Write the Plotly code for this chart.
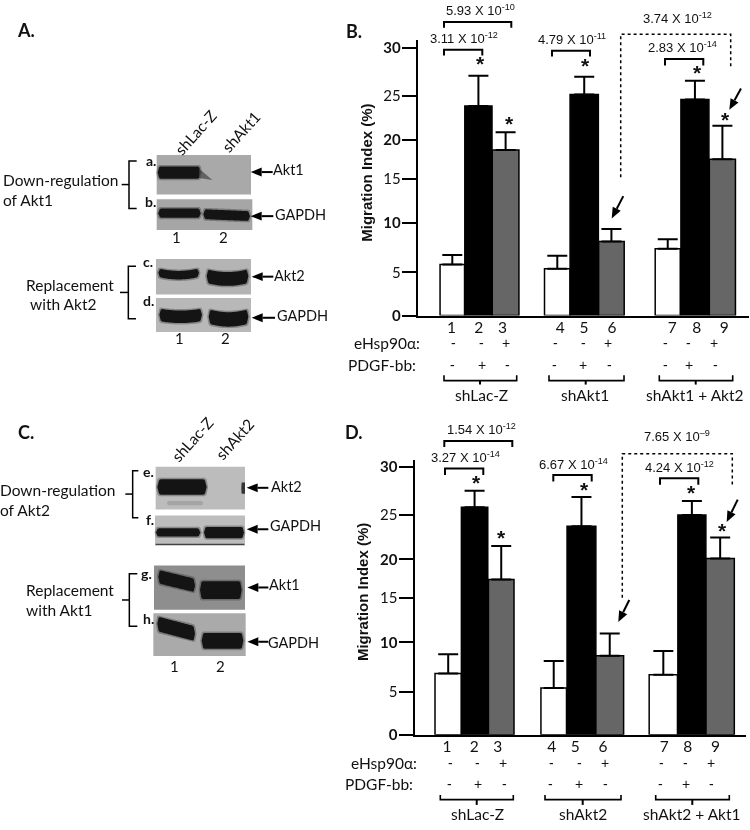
import math
import plotly.graph_objects as go

# ---- chart data -------------------------------------------------------
lane_numbers = ["1", "2", "3", "4", "5", "6", "7", "8", "9"]
bar_colors = ["white", "black", "#666666"] * 3

values_b = [5.71, 23.46, 18.53, 5.23, 24.75, 8.29, 7.48, 24.2, 17.5]
errors_b = [1.07, 3.39, 1.99, 1.47, 1.99, 1.4, 1.07, 2.1, 3.75]
values_d = [6.88, 25.5, 17.4, 5.26, 23.37, 8.87, 6.74, 24.62, 19.76]
errors_d = [2.14, 1.85, 3.76, 3.02, 3.28, 2.47, 2.65, 1.58, 2.34]

y_tick_labels = ["<b>0</b>", "5", "<b>10</b>", "15", "<b>20</b>", "25", "<b>30</b>"]
y_tick_values = [0, 4.83, 10.35, 15.33, 19.65, 24.6, 30]

hsp_signs = ["-", "-", "+"] * 3
pdgf_signs = ["-", "+", "-"] * 3

pvals_b = ["5.93 X 10<sup>-10</sup>", "3.11 X 10<sup>-12</sup>", "4.79 X 10<sup>-11</sup>",
           "3.74 X 10<sup>-12</sup>", "2.83 X 10<sup>-14</sup>"]
pvals_d = ["1.54 X 10<sup>-12</sup>", "3.27 X 10<sup>-14</sup>", "6.67 X 10<sup>-14</sup>",
           "7.65 X 10<sup>–9</sup>", "4.24 X 10<sup>-12</sup>"]

# ---- layout constants ---------------------------------------------------
lanes_b = [1, 1.96, 2.96, 4.86, 5.85, 6.85, 8.92, 9.92, 10.93]
widths_b = [0.9, 1.0, 0.98, 0.94, 1.04, 0.94, 0.92, 1.03, 0.96]
lanes_d = [1, 1.97, 2.95, 4.88, 5.9, 6.94, 8.91, 9.96, 11.0]
widths_d = [0.97, 0.97, 0.94, 0.94, 1.06, 1.02, 1.04, 1.03, 1.04]
num_lanes_b = [0.97, 1.97, 2.85, 4.97, 5.84, 6.87, 9.09, 9.99, 11.0]
num_lanes_d = [0.96, 1.96, 2.82, 4.81, 5.67, 6.69, 8.94, 9.81, 10.83]
W, H = 750, 830
SANS = "Lato"
ARIAL = "Liberation Sans"
BODY = 15.5


def X(p):
    return p / W


def Y(p):
    return 1 - p / H


shapes, annos = [], []


def text(x, y, s, size=BODY, anchor="center", font=SANS, angle=0):
    annos.append(dict(x=X(x), y=Y(y), xref="paper", yref="paper", text=s, showarrow=False,
                      xanchor=anchor, yanchor="middle", textangle=angle, borderpad=0, borderwidth=0,
                      font=dict(family=font, size=size, color="#111111")))


def poly(points, width=2, dash=None, close=False, fill=None, color="black", opacity=1):
    d = "M " + " L ".join(f"{X(a):.5f} {Y(b):.5f}" for a, b in points)
    if close:
        d += " Z"
    line = dict(color=color, width=width)
    if dash:
        line["dash"] = dash
    s = dict(type="path", xref="paper", yref="paper", path=d, line=line, opacity=opacity)
    if fill:
        s["fillcolor"] = fill
    shapes.append(s)


def arrow(x0, y0, x1, y1, width=2, head=11.0, half=4.5):
    L = math.hypot(x1 - x0, y1 - y0)
    ux, uy = (x1 - x0) / L, (y1 - y0) / L
    bx, by = x1 - ux * head, y1 - uy * head
    poly([(x0, y0), (bx, by)], width=width)
    poly([(x1, y1), (bx - uy * half, by + ux * half), (bx + uy * half, by - ux * half)],
         width=0, close=True, fill="black")


def rect(x0, y0, x1, y1, color):
    shapes.append(dict(type="rect", xref="paper", yref="paper", x0=X(x0), x1=X(x1), y0=Y(y0),
                       y1=Y(y1), fillcolor=color, line=dict(width=0)))


def curve(x0, y0, x1, y1, sag=0.0, tilt=0.0, color="#141414", opacity=1.0):
    """A blot band: rounded blob between two corners, smile-shaped by sag, slanted by tilt."""
    n = 30
    r = 0.07
    top, bot = [], []
    for i in range(n + 1):
        t = i / n
        u = min(1.0, min(t, 1 - t) / r)
        end = math.sqrt(max(0.0, 1 - (1 - u) ** 2))
        mid = (y0 + y1) / 2 + tilt * (t - 0.5)
        half = (y1 - y0) / 2 * end
        x = x0 + (x1 - x0) * t
        off = sag * (4 * (t - 0.5) ** 2 - 1 / 3)
        top.append((x, mid - half - off))
        bot.append((x, mid + half - off))
    poly(top + bot[::-1], width=0, close=True, fill=color, color=color, opacity=opacity)


def blur_band(x0, y0, x1, y1, sag=0.0, tilt=0.0):
    curve(x0 - 1.5, y0 - 1.5, x1 + 1.5, y1 + 1.5, sag, tilt, "#2a2a2a", 0.35)
    curve(x0, y0, x1, y1, sag, tilt)


def bracket(x0, x1, y0, y1, width=2):
    poly([(x0, y1), (x0, y0), (x1, y0), (x1, y1)], width=width)


def under_bracket(x0, x1, xc, y0, y1, y2):
    poly([(x0, y0), (x0, y1), (x1, y1), (x1, y0)], width=1.6)
    poly([(xc, y1), (xc, y2)], width=2)


def star(x, y):
    text(x, y + 1, "<b>*</b>", size=21, font=ARIAL)


def sign(x, y, s):
    text(x, y, s, size=14, font=ARIAL)


def curly(x_spine, y0, y1, x_end, y_tick, x_tick):
    poly([(x_end, y0), (x_spine, y0), (x_spine, y1), (x_end, y1)], width=1.5)
    poly([(x_tick, y_tick), (x_spine, y_tick)], width=1.5)


def z(v, off=0.0):
    return v / 3 + off


# ---- panel letters ------------------------------------------------------
text(25.5, 27, "<b>A.</b>", size=18)
text(25.5, 435, "<b>C.</b>", size=18)
text(353.5, 28, "<b>B.</b>", size=18)
text(354, 435, "<b>D.</b>", size=18)

# ---- panel A (zoom coordinates / 3) -------------------------------------
rect(z(470), z(462), z(753), z(582), "#a9a9a9")
rect(z(470), z(597), z(757), z(690), "#a6a6a6")
rect(z(468), z(778), z(753), z(886), "#b4b4b4")
rect(z(468), z(897), z(753), z(1000), "#b8b8b8")
blur_band(z(473), z(497), z(602), z(534))
poly([(z(597), z(503)), (z(637), z(538)), (z(597), z(532))], width=0, close=True, fill="#444444", color="#444444", opacity=0.7)
blur_band(z(475), z(625), z(602), z(653))
blur_band(z(610), z(630), z(750), z(660), tilt=2)
blur_band(z(475), z(812), z(597), z(838), sag=2.5)
blur_band(z(620), z(815), z(745), z(857), sag=3)
blur_band(z(478), z(933), z(606), z(971), sag=2)
blur_band(z(626), z(937), z(745), z(981), sag=3)

for s, x, y in [("a.", 452, 478), ("b.", 450, 605), ("c.", 444, 787), ("d.", 445, 903)]:
    text(z(x), z(y), f"<b>{s}</b>", size=14)
for s, x, y in [("1", 530, 710), ("2", 670, 710), ("1", 538, 1020), ("2", 677, 1020)]:
    text(z(x), z(y), s, size=15)
text(z(588), z(393), "shLac-Z", size=15.5, angle=-48)
text(z(722), z(392), "shAkt1", size=15.5, angle=-48)
text(z(10), z(538), "Down-regulation", size=15.5, anchor="left")
text(z(10), z(598), "of Akt1", size=15.5, anchor="left")
text(z(78), z(857), "Replacement", size=15.5, anchor="left")
text(z(90), z(915), "with Akt2", size=15.5, anchor="left")
curly(z(387), z(480), z(625), z(410), z(552), z(365))
curly(z(385), z(800), z(960), z(408), z(880), z(360))
for xt, xh, y, lab, lx, ly in [(818, 752, 514, "Akt1", 820, 507), (820, 752, 648, "GAPDH", 825, 643),
                               (820, 755, 832, "Akt2", 822, 828), (825, 755, 957, "GAPDH", 830, 950)]:
    arrow(z(xt), z(y), z(xh), z(y))
    text(z(lx), z(ly), lab, size=14.5, anchor="left")

# ---- panel C ------------------------------------------------------------
OC = 410
rect(z(467), z(180, OC), z(735), z(310, OC), "#bcbcbc")
rect(z(465), z(328, OC), z(735), z(420, OC), "#bdbdbd")
rect(z(462), z(480, OC), z(735), z(615, OC), "#8e8e8e")
rect(z(460), z(625, OC), z(737), z(755, OC), "#aaaaaa")
blur_band(z(472), z(218, OC), z(620), z(265, OC))
curve(z(500), z(284, OC), z(610), z(297, OC), color="#a4a4a4")
curve(z(724), z(228, OC), z(746), z(262, OC), color="#333333")
rect(z(735), z(220, OC), z(750), z(270, OC), "white")
blur_band(z(468), z(367, OC), z(601), z(392, OC))
blur_band(z(612), z(363, OC), z(732), z(397, OC))
rect(z(467), z(414, OC), z(733), z(418, OC), "#444444")
blur_band(z(475), z(507, OC), z(585), z(548, OC), tilt=9)
blur_band(z(600), z(528, OC), z(725), z(582, OC))
blur_band(z(472), z(650, OC), z(585), z(695, OC), tilt=10)
blur_band(z(605), z(685, OC), z(730), z(733, OC))
for s, x, y in [("e.", 446, 193), ("f.", 449, 340), ("g.", 440, 503), ("h.", 444, 640)]:
    text(z(x), z(y, OC), f"<b>{s}</b>", size=14)
text(z(522), z(785, OC), "1", size=15)
text(z(660), z(785, OC), "2", size=15)
text(z(578), z(97, OC), "shLac-Z", size=15.5, angle=-48)
text(z(705), z(97, OC), "shAkt2", size=15.5, angle=-48)
text(z(0), z(250, OC), "Down-regulation", size=15.5, anchor="left")
text(z(0), z(310, OC), "of Akt2", size=15.5, anchor="left")
text(z(78), z(555, OC), "Replacement", size=15.5, anchor="left")
text(z(78), z(615, OC), "with Akt1", size=15.5, anchor="left")
curly(z(398), z(192, OC), z(335, OC), z(415), z(263, OC), z(376))
curly(z(388), z(505, OC), z(665, OC), z(412), z(585, OC), z(366))
for xh, y, lab, lx, ly in [(740, 244, "Akt2", 812, 240), (740, 370, "GAPDH", 810, 360),
                           (742, 547, "Akt1", 807, 538), (742, 712, "GAPDH", 805, 715)]:
    arrow(z(805), z(y, OC), z(xh), z(y, OC))
    text(z(lx), z(ly, OC), lab, size=14.5, anchor="left")

# ---- panel B annotations ------------------------------------------------
for s, x, y in zip(pvals_b, [480.3, 464.3, 571.7, 677.3, 682.3], [6.7, 35, 36.7, 15.7, 45]):
    text(x, y, s, size=13, font=ARIAL)
bracket(444, 511.3, 19.3, 25)
bracket(444, 482.3, 47.3, 53.3)
bracket(552, 590, 48.3, 54.3)
bracket(665, 703.3, 56.7, 63.3)
poly([(620.7, 176.7), (620.7, 31.7), (730.7, 31.7), (730.7, 65.7)], width=1.5, dash="dot")
for x, y in [(480.3, 60.7), (509, 120.7), (585, 62.7), (697.3, 69.3), (725, 116.7)]:
    star(x, y)
arrow(623.3, 195.7, 611.7, 218.3)
arrow(741, 86.7, 729.3, 108.3)
text(420, 345, "eHsp90α:", anchor="right")
text(416, 366.7, "PDGF-bb:", anchor="right")
for zx, s in zip([340, 425, 497, 645, 730, 805, 975, 1045, 1122], hsp_signs):
    sign(z(zx, 340), 345, s)
for zx, s in zip([338, 425, 503, 643, 730, 808, 975, 1047, 1125], pdgf_signs):
    sign(z(zx, 340), 366.7, s)
under_bracket(444, 516.7, 480, 377.3, 382.7, 386.7)
under_bracket(549, 624, 585.7, 377.3, 382.7, 386.7)
under_bracket(659.3, 732.7, 695.7, 377.3, 382.7, 386.7)
text(481, 397, "shLac-Z")
text(585, 397, "shAkt1")
text(695, 397, "shAkt1 + Akt2")

# ---- panel D annotations ------------------------------------------------
for s, x, y in zip(pvals_d, [481.3, 465, 573.3, 677.3, 679.3], [431.7, 460, 466.7, 439.3, 470]):
    text(x, y, s, size=13, font=ARIAL)
bracket(444.3, 512.3, 444, 450)
bracket(445, 483.3, 471.7, 478.3)
bracket(553.3, 591.7, 478.3, 485)
bracket(660, 698.3, 481.7, 488.3)
poly([(622.3, 602.7), (622.3, 456.7), (732.3, 456.7), (732.3, 490.7)], width=1.5, dash="dot")
for x, y in [(476, 485), (501.3, 540.7), (584, 492.3), (691, 495), (722.7, 533.3)]:
    star(x, y)
arrow(629.3, 605, 618.3, 627.3)
arrow(737.7, 503.3, 726.7, 526)
text(416.7, 770, "eHsp90α:", anchor="right")
text(412.7, 791.7, "PDGF-bb:", anchor="right")
for zx, s in zip([330, 412, 490, 635, 718, 795, 963, 1035, 1112], hsp_signs):
    sign(z(zx, 340), 770, s)
for zx, s in zip([328, 413, 492, 632, 718, 797, 960, 1037, 1115], pdgf_signs):
    sign(z(zx, 340), 791.7, s)
under_bracket(440.3, 513.3, 476.7, 802.7, 807.3, 812.7)
under_bracket(545, 621, 582.7, 802.7, 807.3, 812.7)
under_bracket(655.7, 729.3, 692.3, 802.7, 807.3, 812.7)
text(477.7, 822, "shLac-Z")
text(583.3, 822, "shAkt2")
text(692.3, 822, "shAkt2 + Akt1")

text(367, 172, "<b>Migration Index (%)</b>", size=15, font=ARIAL, angle=-90)
text(362, 597, "<b>Migration Index (%)</b>", size=15, font=ARIAL, angle=-90)


# ---- bars ---------------------------------------------------------------
def bars(lanes, vals, errs, widths, xa, ya):
    return go.Bar(x=lanes, y=vals, width=widths, xaxis=xa, yaxis=ya, showlegend=False,
                  marker=dict(color=bar_colors, line=dict(color="black", width=1.5)),
                  error_y=dict(type="data", symmetric=False, array=errs,
                               arrayminus=[0] * len(errs), color="black", thickness=2, width=10),
                  hoverinfo="skip")


fig = go.Figure()
fig.add_trace(bars(lanes_b, values_b, errors_b, widths_b, "x", "y"))
fig.add_trace(bars(lanes_d, values_d, errors_d, widths_d, "x2", "y2"))


def xaxis(dom, rng, anchor, ticks):
    return dict(domain=[X(dom[0]), X(dom[1])], range=rng, anchor=anchor, showgrid=False, zeroline=False,
                showline=True, linecolor="black", linewidth=2, ticks="", tickmode="array",
                tickvals=ticks, ticktext=lane_numbers, ticklabelstandoff=-3,
                tickfont=dict(family=SANS, size=BODY, color="#111111"), fixedrange=True)


def yaxis(top, base, anchor):
    return dict(domain=[Y(base), Y(top)], range=[0, (base - top) / 9.05], anchor=anchor, showgrid=False,
                zeroline=False, showline=True, linecolor="black", linewidth=2, ticks="outside", ticklen=14,
                tickwidth=2, tickcolor="black", tickmode="array", tickvals=y_tick_values,
                ticktext=y_tick_labels, ticklabelstandoff=-2,
                tickfont=dict(family=SANS, size=15, color="#111111"), fixedrange=True)


fig.update_layout(
    width=W, height=H, margin=dict(l=0, r=0, t=0, b=0), autosize=False,
    paper_bgcolor="white", plot_bgcolor="rgba(0,0,0,0)", barmode="overlay", showlegend=False,
    xaxis=xaxis((417.7, 749), [-0.272, 11.908], "y", num_lanes_b),
    yaxis=yaxis(38, 316.7, "x"),
    xaxis2=xaxis((414.5, 746), [-0.239, 11.95], "y2", num_lanes_d),
    yaxis2=yaxis(463.3, 741.7, "x2"),
    shapes=shapes, annotations=annos,
)

fig.write_html("out.html", config={"displayModeBar": False},
               post_script="document.body.style.margin='0';document.body.style.overflow='hidden';"
                           "document.body.style.filter='grayscale(1)';")
